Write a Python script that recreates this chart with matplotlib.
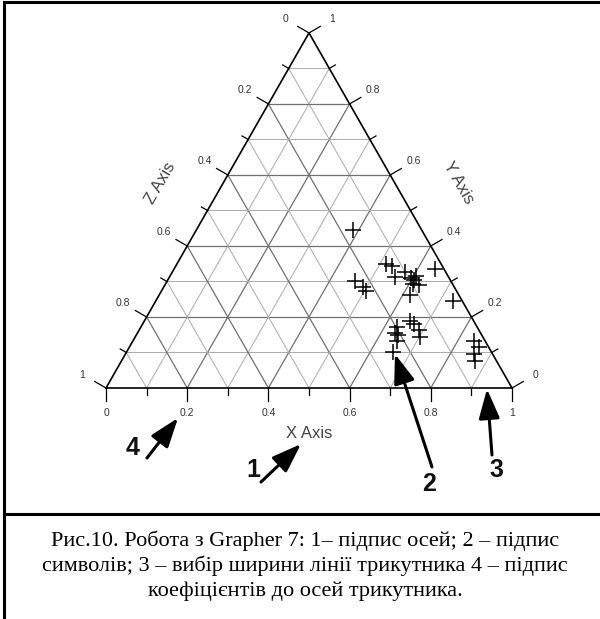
import numpy as np
import matplotlib.pyplot as plt

# ternary compositions of the samples (X + Y + Z = 1)
x_vals = [0.385, 0.516, 0.533, 0.555, 0.573, 0.596, 0.606, 0.606, 0.610, 0.618,
          0.626, 0.643, 0.463, 0.491, 0.504, 0.733, 0.654, 0.668, 0.689, 0.701,
          0.631, 0.634, 0.645, 0.650, 0.656, 0.840, 0.861, 0.859, 0.870]
y_vals = [0.445, 0.349, 0.344, 0.313, 0.327, 0.310, 0.304, 0.315, 0.293, 0.262,
          0.290, 0.335, 0.301, 0.285, 0.273, 0.245, 0.189, 0.180, 0.163, 0.144,
          0.172, 0.155, 0.149, 0.132, 0.101, 0.132, 0.115, 0.096, 0.076]
z_vals = [1 - a - b for a, b in zip(x_vals, y_vals)]

tick_steps = [i / 10 for i in range(11)]
major_labels = {0: "0", 2: "0.2", 4: "0.4", 6: "0.6", 8: "0.8", 10: "1"}
axis_titles = ["X Axis", "Y Axis", "Z Axis"]

caption_lines = [
    "Рис.10. Робота з Grapher 7: 1– підпис осей; 2 – підпис",
    "символів; 3 – вибір ширини лінії трикутника 4 – підпис",
    "коефіцієнтів до осей трикутника.",
]
callout_labels = ["1", "2", "3", "4"]

H = np.sqrt(3) / 2
UX, UY = 1 / 406, 1 / 410   # data units per pixel
SANS = "Liberation Sans"


def tern(x, y):
    """ternary (x, y) -> cartesian, z is implied"""
    return x + 0.5 * y, H * y


fig = plt.figure(figsize=(6, 6.19), dpi=100)
ax = fig.add_axes([0, 0, 1, 1])
ax.set_xlim(-106 * UX, 494 * UX)
ax.set_ylim(-231 * UY, 388 * UY)
ax.axis("off")

# grid lines every 0.1
for k in range(1, 10):
    t = k / 10
    col, lw = ("#707070", 0.9) if k % 2 == 0 else ("#ababab", 0.7)
    segs = [
        (tern(0, t), tern(1 - t, t)),          # constant Y
        (tern(t, 0), tern(t, 1 - t)),          # constant X
        (tern(1 - t, 0), tern(0, 1 - t)),      # constant Z
    ]
    for (x0, y0), (x1, y1) in segs:
        ax.plot([x0, x1], [y0, y1], color=col, lw=lw, zorder=1)

# triangle outline
corners = [tern(0, 0), tern(1, 0), tern(0, 1), tern(0, 0)]
ax.plot([c[0] for c in corners], [c[1] for c in corners], color="black",
        lw=1.2, zorder=3, solid_joinstyle="miter")

# ticks and tick labels on the three sides
edges = [
    (lambda t: tern(t, 0), (0.0, -1.0), 25),           # X, bottom
    (lambda t: tern(1 - t, t), (0.866, 0.5), 27),      # Y, right
    (lambda t: tern(0, 1 - t), (-0.866, 0.5), 27),     # Z, left
]
for pos, (nx, ny), lab_off in edges:
    for k, t in enumerate(tick_steps):
        px, py = pos(t)
        length = 13 if k % 2 == 0 else 7
        ax.plot([px, px + nx * length * UX], [py, py + ny * length * UY],
                color="black", lw=0.9, zorder=3, clip_on=False)
        if k in major_labels:
            ax.text(px + nx * lab_off * UX, py + ny * lab_off * UY,
                    major_labels[k], ha="center", va="center", fontsize=7.5,
                    family=SANS, color="#333333")

# axis titles
ax.text(0.5, -45 * UY, axis_titles[0], ha="center", va="center",
        fontsize=12, family=SANS, color="#444444")
mx, my = tern(0.5, 0.5)
ax.text(mx + 0.866 * 0.135, my + 0.5 * 0.135, axis_titles[1], rotation=-60,
        ha="center", va="center", fontsize=12, family=SANS, color="#444444")
mx, my = tern(0, 0.5)
ax.text(mx - 0.866 * 0.135, my + 0.5 * 0.135, axis_titles[2], rotation=60,
        ha="center", va="center", fontsize=12, family=SANS, color="#444444")

# samples
cx, cy = tern(np.array(x_vals), np.array(y_vals))
ax.plot(cx, cy, linestyle="none", marker="+", markersize=11,
        markeredgewidth=1.1, color="black", zorder=4)

# overlay in pixel coordinates for frame, callouts and caption
ann = fig.add_axes([0, 0, 1, 1])
ann.set_xlim(0, 600)
ann.set_ylim(619, 0)
ann.axis("off")

ann.plot([4, 4], [1.5, 619], color="black", lw=2.2)
ann.plot([4, 600], [1.5, 1.5], color="black", lw=2.2)
ann.plot([4, 600], [514, 514], color="black", lw=2.2)

arrows = [
    ((261, 482), (301, 444)),
    ((432, 467), (395, 354)),
    ((492, 455), (487, 389)),
    ((147, 458), (178, 418)),
]
label_pos = [(253, 470), (429, 484), (496, 470), (133, 448)]
for (tail, tip), lab, (lx, ly) in zip(arrows, callout_labels, label_pos):
    ann.annotate("", xy=tip, xytext=tail,
                 arrowprops=dict(arrowstyle="-|>,head_length=0.9,head_width=0.32",
                                 lw=2.2, color="black", mutation_scale=20,
                                 shrinkA=0, shrinkB=0))
    ann.text(lx, ly, lab, ha="center", va="center", fontsize=18,
             fontweight="bold", family=SANS, color="#111111")

for i, line in enumerate(caption_lines):
    ann.text(305, 541 + 25 * i, line, ha="center", va="center", fontsize=16,
             family="Liberation Serif", color="black")

fig.savefig("out.png", dpi=100)
